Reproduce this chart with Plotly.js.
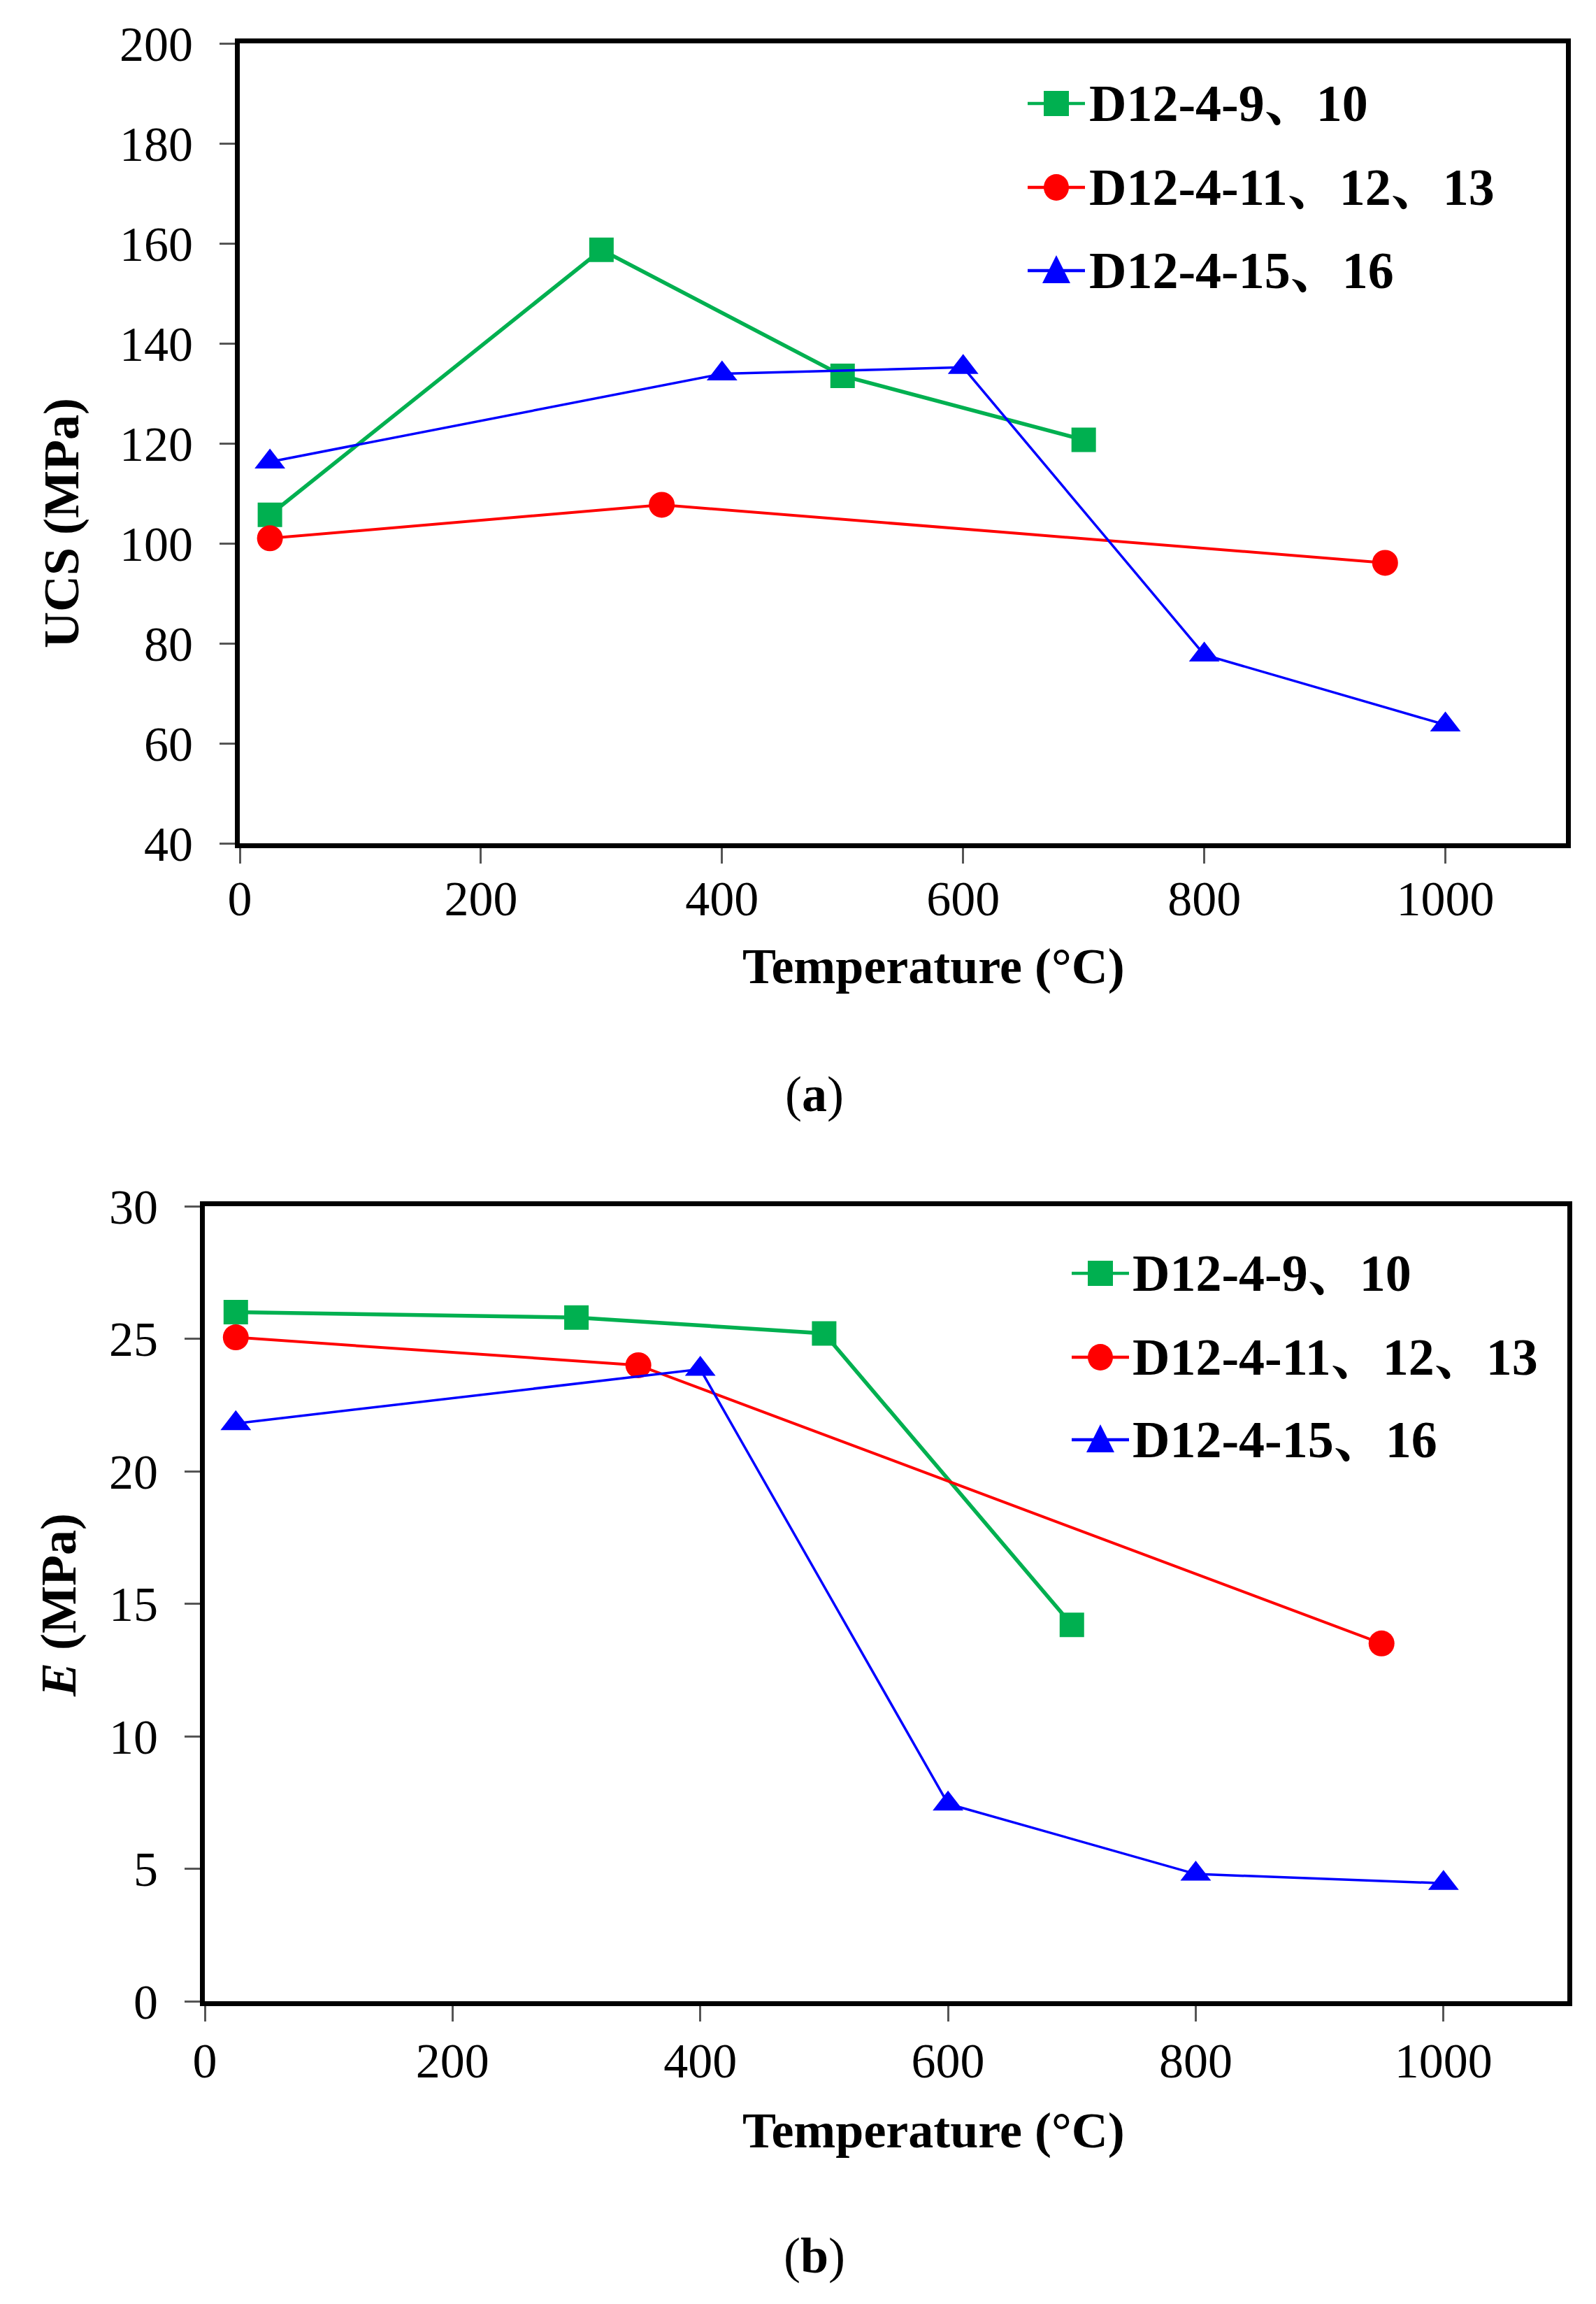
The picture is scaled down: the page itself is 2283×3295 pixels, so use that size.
<!DOCTYPE html>
<html><head><meta charset="utf-8">
<script src="https://cdn.plot.ly/plotly-3.0.1.min.js"></script>
<style>html,body{margin:0;padding:0;background:#fff}</style>
</head><body><div id="chart" style="width:2283px;height:3295px"></div>
<script>
// ---- data ----
const seriesNames = ['D12-4-9、10', 'D12-4-11、12、13', 'D12-4-15、16'];
const seriesColors = ['#00B050', '#FF0000', '#0000FF'];
const seriesSymbols = ['square', 'circle', 'triangle-up'];

const ucsTempA = [25, 300, 500, 700];
const ucsValA = [105.7, 158.7, 133.5, 120.7];
const ucsTempB = [25, 350, 950];
const ucsValB = [101.0, 107.7, 96.1];
const ucsTempC = [25, 400, 600, 800, 1000];
const ucsValC = [116.3, 133.9, 135.2, 77.7, 63.7];

const eTempA = [25, 300, 500, 700];
const eValA = [26.0, 25.8, 25.2, 14.2];
const eTempB = [25, 350, 950];
const eValB = [25.05, 24.0, 13.5];
const eTempC = [25, 400, 600, 800, 1000];
const eValC = [21.8, 23.85, 7.45, 4.8, 4.45];

const xTickVals = [0, 200, 400, 600, 800, 1000];
const ucsTickVals = [40, 60, 80, 100, 120, 140, 160, 180, 200];
const eTickVals = [0, 5, 10, 15, 20, 25, 30];

// ---- layout helpers ----
const W = 2283, H = 3295;
const px = x => x / W;
const py = y => 1 - y / H;
const FONT = 'Liberation Serif, Times New Roman, Noto Serif CJK SC, Noto Sans CJK SC, serif';
const lineWidths = [5.5, 4, 3.5];
const markerSizes = [35, 37, 38];

function makeTraces(xs, ys, xa, ya) {
  return xs.map((x, i) => ({
    type: 'scatter', mode: 'lines+markers',
    x: x, y: ys[i], xaxis: xa, yaxis: ya,
    name: seriesNames[i], showlegend: false,
    line: {color: seriesColors[i], width: lineWidths[i]},
    marker: {color: seriesColors[i], symbol: seriesSymbols[i], size: markerSizes[i]}
  }));
}

const data = [
  ...makeTraces([ucsTempA, ucsTempB, ucsTempC], [ucsValA, ucsValB, ucsValC], 'x', 'y'),
  ...makeTraces([eTempA, eTempB, eTempC], [eValA, eValB, eValC], 'x2', 'y2')
];

function axis(extra) {
  return Object.assign({
    showline: true, linecolor: '#000', linewidth: 7, mirror: true,
    ticks: 'outside', ticklen: 22, tickwidth: 3, tickcolor: '#555',
    showgrid: false, zeroline: false, fixedrange: true,
    tickfont: {family: FONT, size: 70, color: '#000'}
  }, extra);
}

// custom legend built from the series arrays
const shapes = [];
const annotations = [];
function addLegend(cx, rows, textX) {
  rows.forEach((ry, i) => {
    const c = seriesColors[i];
    shapes.push({type: 'line', xref: 'paper', yref: 'paper',
      x0: px(cx - 41), x1: px(cx + 41), y0: py(ry), y1: py(ry),
      line: {color: c, width: 4.5}});
    if (seriesSymbols[i] === 'square') {
      shapes.push({type: 'rect', xref: 'paper', yref: 'paper',
        x0: px(cx - 18), x1: px(cx + 18), y0: py(ry + 18), y1: py(ry - 18),
        fillcolor: c, line: {width: 0}});
    } else if (seriesSymbols[i] === 'circle') {
      shapes.push({type: 'circle', xref: 'paper', yref: 'paper',
        x0: px(cx - 18), x1: px(cx + 18), y0: py(ry + 19), y1: py(ry - 19),
        fillcolor: c, line: {width: 0}});
    } else {
      shapes.push({type: 'path', xref: 'paper', yref: 'paper',
        path: `M ${px(cx - 20)} ${py(ry + 18)} L ${px(cx + 20)} ${py(ry + 18)} L ${px(cx)} ${py(ry - 22)} Z`,
        fillcolor: c, line: {width: 0}});
    }
    annotations.push({xref: 'paper', yref: 'paper', x: px(textX), y: py(ry),
      xanchor: 'left', yanchor: 'middle', showarrow: false,
      text: '<b>' + seriesNames[i] + '</b>',
      font: {family: FONT, size: 74, color: '#000'}});
  });
}
addLegend(1511, [148, 268, 387], 1556);
addLegend(1574, [1821, 1941, 2059], 1618);

function addText(text, x, y, size, angle) {
  annotations.push({xref: 'paper', yref: 'paper', x: px(x), y: py(y),
    xanchor: 'center', yanchor: 'middle', showarrow: false, textangle: angle || 0,
    text: text, font: {family: FONT, size: size, color: '#000'}});
}
addText('<b>Temperature (°C)</b>', 1335, 1382, 72);
addText('<b>Temperature (°C)</b>', 1335, 3047, 72);
addText('<b>UCS (MPa)</b>', 88, 748, 72, -90);
addText('<b><i>E</i> (MPa)</b>', 84, 2296, 72, -90);
addText('(<b>a</b>)', 1165, 1565, 72);
addText('(<b>b</b>)', 1165, 3226, 72);

const layout = {
  width: W, height: H,
  margin: {l: 0, r: 0, t: 0, b: 0},
  paper_bgcolor: '#fff', plot_bgcolor: '#fff',
  showlegend: false,
  xaxis: axis({domain: [px(343), px(2240)], range: [0, 1100], tickvals: xTickVals, anchor: 'y', ticklabelstandoff: -10}),
  yaxis: axis({domain: [py(1206), py(62)], range: [40, 200], tickvals: ucsTickVals, anchor: 'x', ticklabelstandoff: 24}),
  xaxis2: axis({domain: [px(293), px(2242)], range: [0, 1100], tickvals: xTickVals, anchor: 'y2', ticklabelstandoff: -4}),
  yaxis2: axis({domain: [py(2862), py(1725)], range: [0, 30], tickvals: eTickVals, anchor: 'x2', ticklabelstandoff: 24}),
  shapes: shapes,
  annotations: annotations
};

Plotly.newPlot('chart', data, layout, {staticPlot: true, displayModeBar: false});
</script>
</body></html>
